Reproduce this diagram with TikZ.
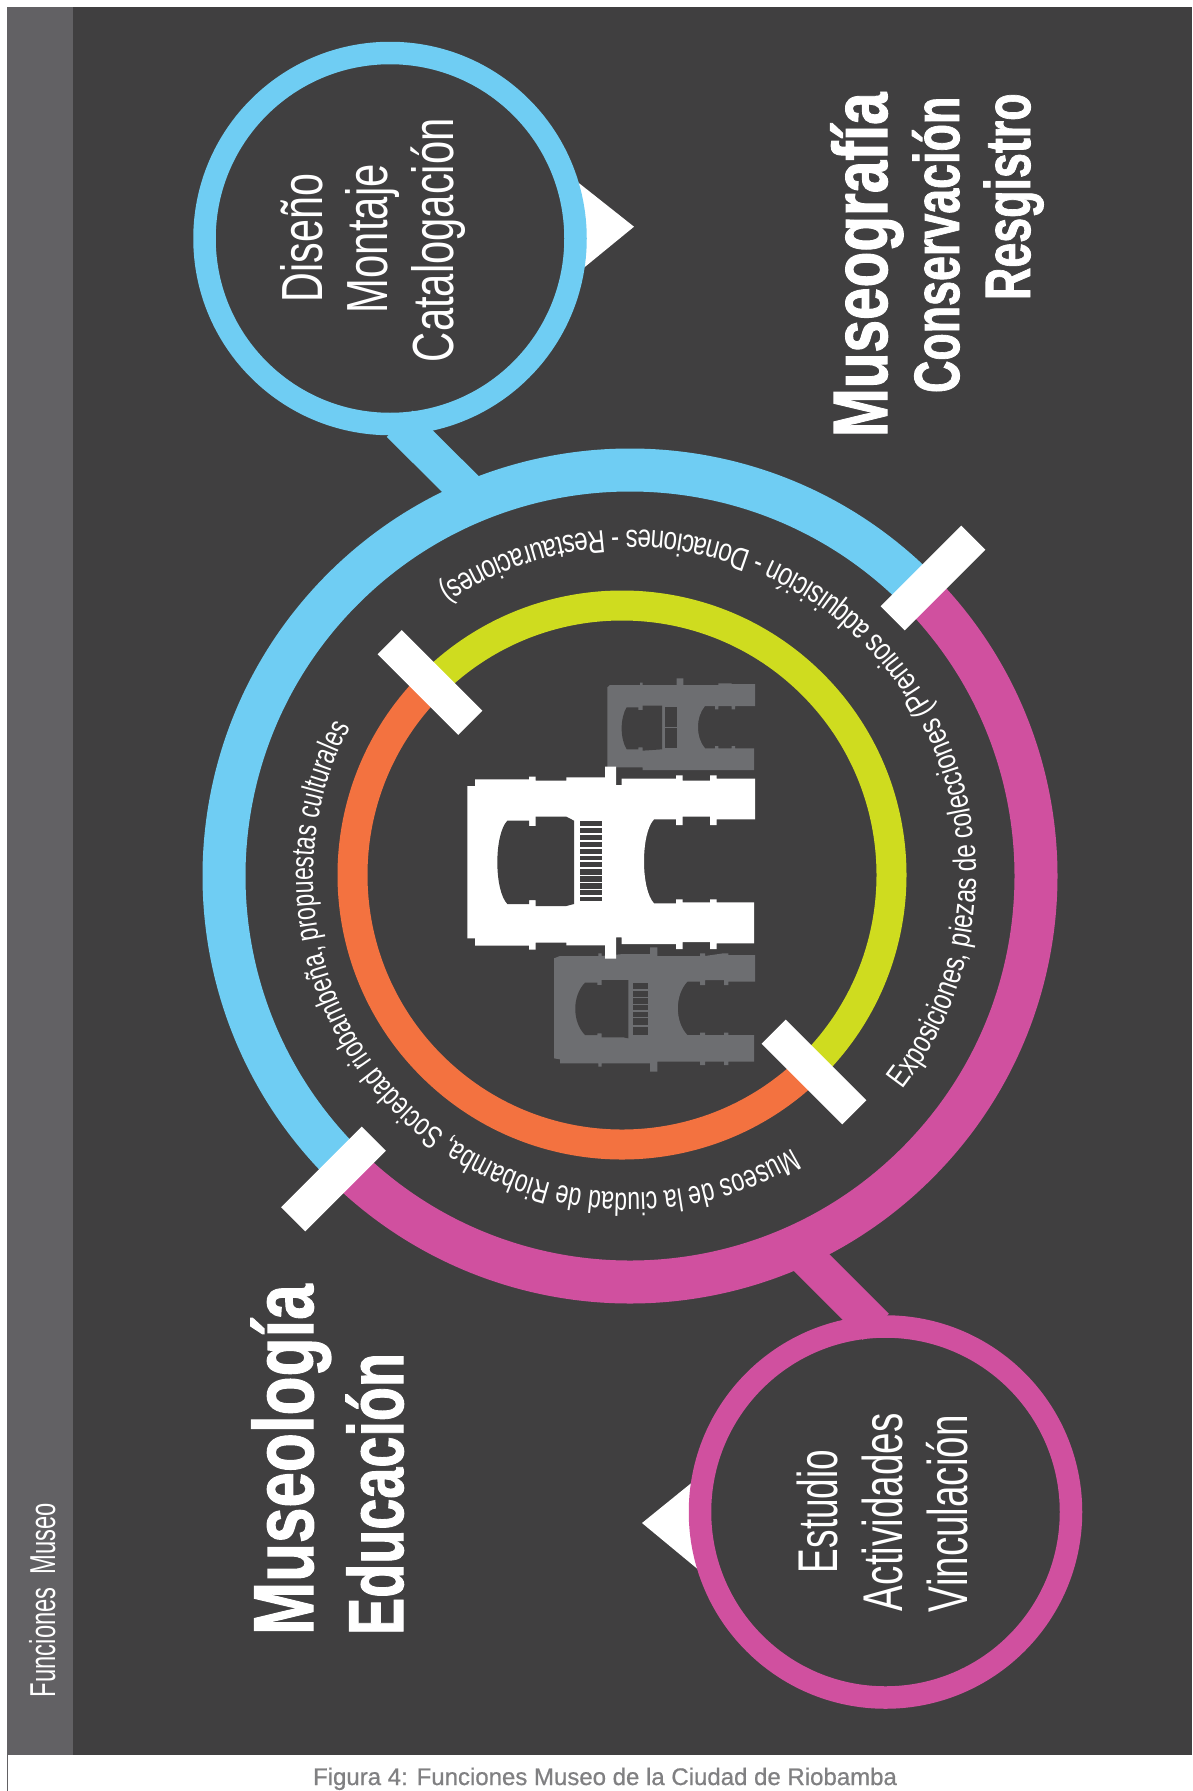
\documentclass[tikz,border=0pt]{standalone}
\usepackage{fontspec}
\setmainfont{Liberation Sans}
\newfontfamily\arcfa[FakeStretch=0.76]{Liberation Sans}
\newfontfamily\arcfb[FakeStretch=0.72]{Liberation Sans}
\newfontfamily\headf[BoldFeatures={FakeBold=1.5}]{Liberation Sans}
\newfontfamily\capf[FakeBold=0.7]{Liberation Sans}
\usetikzlibrary{decorations.text}
\definecolor{bgdark}{HTML}{403F40}
\definecolor{sidegray}{HTML}{626164}
\definecolor{ringblue}{HTML}{6FCDF3}
\definecolor{ringmag}{HTML}{D0509F}
\definecolor{ringgreen}{HTML}{CFDC1F}
\definecolor{ringorange}{HTML}{F37240}
\definecolor{plangray}{HTML}{6D6E71}
\definecolor{captiongray}{HTML}{808082}
\newcommand\sq[3]{\scalebox{#1}[1]{\fontsize{#2}{#2}\selectfont #3}}
\tikzset{
  vtext/.style={rotate=90,anchor=base west,inner sep=0pt,outer sep=0pt,text=white},
  bigcirc/.style={circle,draw=#1,line width=22.5pt,minimum size=371pt,inner sep=0pt,outer sep=0pt},
  linkline/.style={draw=#1,line width=37pt},
  whitebar/.style={fill=white,draw=none,minimum width=114pt,minimum height=34pt,inner sep=0pt,outer sep=0pt},
  outerarc/.style={draw=#1,line width=43pt},
  innerarc/.style={draw=#1,line width=30pt},
  stairline/.style={draw=#1,line width=1.4pt},
}
\begin{document}
\begin{tikzpicture}[x=1pt,y=-1pt]
\useasboundingbox (0,0) rectangle (1192,1791);
\fill[white] (0,0) rectangle (1192,1791);
\fill[bgdark] (7,7) rectangle (1192,1755);
\fill[sidegray] (7,7) rectangle (73,1755);
\draw[sidegray,line width=1pt] (7.5,1755) -- (7.5,1791);
\node[vtext] (sidetitle) at (55,1697) {\sq{0.66}{36}{Funciones\ \ Museo}};
% main rings
\coordinate (outerc) at (630,876);
\coordinate (innerc) at (622,875);
\draw[outerarc=ringblue] (outerc) ++(45:406pt) arc[start angle=45,end angle=225,radius=406pt];
\draw[outerarc=ringmag] (outerc) ++(225:406pt) arc[start angle=225,end angle=405,radius=406pt];
\draw[innerarc=ringgreen] (innerc) ++(-45:269.5pt) arc[start angle=-45,end angle=135,radius=269.5pt];
\draw[innerarc=ringorange] (innerc) ++(135:269.5pt) arc[start angle=135,end angle=315,radius=269.5pt];
% triangles
\fill[white] (634,226.7) -- (575,180) -- (575,275) -- cycle;
\fill[white] (642,1523) -- (700,1476) -- (700,1571) -- cycle;
% small circles
\node[bigcirc=ringblue] (bluecircle) at (390,238.5) {};
\node[bigcirc=ringmag] (magcircle) at (885.5,1512) {};
\coordinate (bluelink) at (470,493.5);
\coordinate (maglink) at (804,1255);
\draw[linkline=ringblue] (bluecircle.-87) -- (bluelink);
\draw[linkline=ringmag] (magcircle.93.2) -- (maglink);
% white bars
\node[whitebar,rotate=45] (barne) at (933,578) {};
\node[whitebar,rotate=45] (barsw) at (333.5,1179) {};
\node[whitebar,rotate=-45] (barnw) at (430,682.5) {};
\node[whitebar,rotate=-45] (barse) at (814,1072) {};
% arc texts
\path[postaction={decorate},decoration={text along path,
  text={|\arcfa\fontsize{32}{32}\selectfont\color{white}|Exposiciones, piezas de colecciones (Premios adquisición - Donaciones - Restauraciones)}}]
  (outerc) ++(-38:346pt) arc[start angle=-38,end angle=126,radius=346pt];
\path[postaction={decorate},decoration={text along path,
  text={|\arcfb\fontsize{32}{32}\selectfont\color{white}|Museos de la ciudad de Riobamba, Sociedad riobambeña, propuestas culturales}}]
  (outerc) ++(-59.2:317pt) arc[start angle=-59.2,end angle=-210,radius=317pt];
% building plans
\begin{scope}[shift={(450,650)},x=0.33333pt,y=-0.33333pt]
\fill[plangray] (472,112) -- (480,105) -- (570,105) -- (570,98) -- (578,98) -- (578,105) -- (680,105) -- (680,85) -- (700,85) -- (700,105) -- (805,105) -- (805,100) -- (845,100) -- (845,102) -- (915,102) -- (915,168) -- (855,168) -- (855,178) -- (845,178) -- (845,168) -- (805,168) -- (805,178) -- (795,178) -- (795,168) -- (765,168) .. controls (737,200) and (737,263) .. (765,295) -- (795,295) -- (795,288) -- (805,288) -- (805,295) -- (845,295) -- (845,288) -- (855,288) -- (855,295) -- (912,295) -- (912,360) -- (578,360) -- (578,352) -- (472,352) -- cycle;
\fill[bgdark] (530,172) -- (565,172) -- (565,180) -- (578,180) -- (578,167) -- (636,167) -- (636,298) -- (578,302) -- (578,292) -- (565,292) -- (565,298) -- (530,298) .. controls (510,266) and (510,204) .. (530,172) -- cycle;
\fill[bgdark] (645,172) rectangle (682,295);
\draw[stairline=plangray] (645,233) -- (682,233);
\fill[plangray] (312,925) -- (330,918) -- (445,918) -- (445,910) -- (455,910) -- (455,918) -- (520,912) -- (600,912) -- (600,892) -- (622,892) -- (622,918) -- (750,918) -- (750,910) -- (765,910) -- (765,918) -- (820,910) -- (835,910) -- (835,915) -- (915,915) -- (915,995) -- (835,995) -- (835,1005) -- (822,1005) -- (822,990) -- (765,990) -- (765,1005) -- (750,1005) -- (750,995) -- (712,995) .. controls (674,1035) and (674,1115) .. (712,1155) -- (750,1155) -- (750,1148) -- (765,1148) -- (765,1155) -- (822,1155) -- (822,1148) -- (835,1148) -- (835,1155) -- (912,1155) -- (912,1235) -- (835,1235) -- (835,1245) -- (822,1245) -- (822,1235) -- (765,1235) -- (765,1245) -- (750,1245) -- (750,1235) -- (622,1235) -- (622,1265) -- (600,1265) -- (600,1240) -- (455,1240) -- (455,1250) -- (445,1250) -- (445,1240) -- (330,1240) -- (330,1228) -- (312,1225) -- cycle;
\fill[bgdark] (405,998) -- (442,998) -- (442,1005) -- (455,1005) -- (455,990) -- (535,990) -- (535,1165) -- (520,1162) -- (455,1162) -- (455,1150) -- (442,1150) -- (442,1155) -- (405,1155) .. controls (366,1115) and (366,1038) .. (405,998) -- cycle;
\fill[bgdark] (548,998) rectangle (594,1155);
\foreach \yy in {1020,1042,1063,1083,1103,1128} \draw[stairline=plangray] (548,\yy) -- (594,\yy);
\fill[white] (52,408) -- (75,408) -- (75,388) -- (237,388) -- (237,380) -- (257,380) -- (257,392) -- (349,392) -- (349,382) -- (465,382) -- (465,350) -- (498,350) -- (498,405) -- (515,405) -- (515,386) -- (678,386) -- (678,376) -- (698,376) -- (698,392) -- (780,392) -- (780,376) -- (800,376) -- (800,386) -- (915,386) -- (915,508) -- (800,508) -- (800,525) -- (780,525) -- (780,500) -- (698,500) -- (698,525) -- (678,525) -- (678,508) -- (612,508) .. controls (572,550) and (572,718) .. (612,760) -- (678,760) -- (678,748) -- (698,748) -- (698,757) -- (780,757) -- (780,748) -- (800,748) -- (800,757) -- (912,757) -- (912,880) -- (800,880) -- (800,897) -- (780,897) -- (780,876) -- (698,876) -- (698,897) -- (678,897) -- (678,882) -- (515,882) -- (515,862) -- (498,862) -- (498,926) -- (465,926) -- (465,886) -- (349,886) -- (349,878) -- (257,878) -- (257,899) -- (237,899) -- (237,887) -- (75,887) -- (75,865) -- (52,865) -- cycle;
\fill[bgdark] (172,512) -- (237,512) -- (237,528) -- (257,528) -- (257,500) -- (349,500) -- (372,512) -- (372,762) -- (349,768) -- (257,768) -- (257,750) -- (237,750) -- (237,762) -- (172,762) .. controls (132,720) and (132,554) .. (172,512) -- cycle;
\fill[bgdark] (390,514) rectangle (456,752);
\foreach \yy in {531,552,573,594,615,633,654,677,698,719,738} \draw[stairline=white] (390,\yy) -- (456,\yy);
\end{scope}
% circle labels
\node[vtext] (diseno) at (322,302) {\sq{0.71}{58}{Diseño}};
\node[vtext] (montaje) at (387,313) {\sq{0.72}{58}{Montaje}};
\node[vtext] (catalog) at (453,362) {\sq{0.72}{58}{Catalogación}};
\node[vtext] (estudio) at (837,1573) {\sq{0.66}{56}{Estudio}};
\node[vtext] (activ) at (902,1611) {\sq{0.69}{56}{Actividades}};
\node[vtext] (vincul) at (967,1612) {\sq{0.69}{56}{Vinculación}};
% headings
\node[vtext] (museografia) at (887,437) {\sq{0.76}{77}{\headf\bfseries Museografía}};
\node[vtext] (conserv) at (959,393) {\sq{0.70}{64}{\headf\bfseries Conservación}};
\node[vtext] (registro) at (1030,300) {\sq{0.70}{64}{\headf\bfseries Resgistro}};
\node[vtext] (museologia) at (313,1635) {\sq{0.75}{85}{\headf\bfseries Museología}};
\node[vtext] (educacion) at (403,1635) {\sq{0.715}{78}{\headf\bfseries Educación}};
% caption
\node[anchor=base,inner sep=0pt,text=captiongray] (caption) at (605,1785) {\sq{1.0}{24}{\capf Figura 4: Funciones Museo de la Ciudad de Riobamba}};
\end{tikzpicture}
\end{document}
